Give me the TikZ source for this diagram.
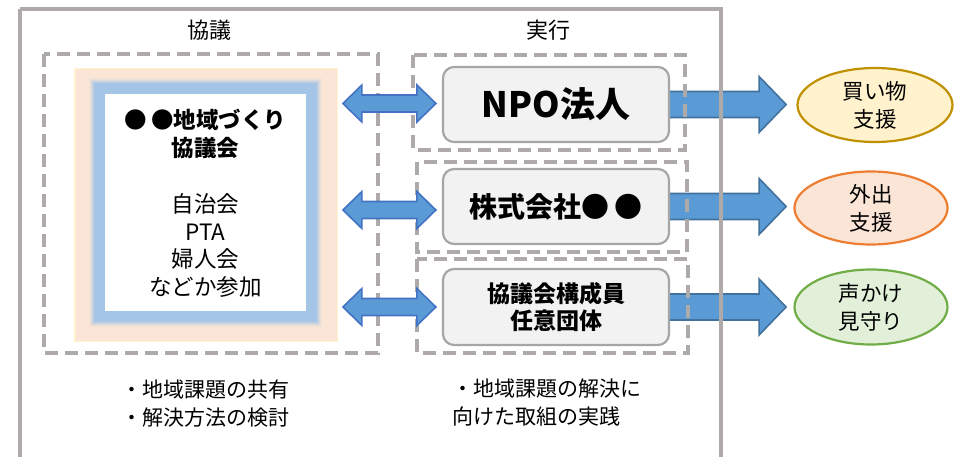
\documentclass[tikz,border=0pt]{standalone}
\usepackage{fontspec}
\setmainfont{Noto Sans CJK JP}
\usetikzlibrary{shapes.geometric,calc}
\definecolor{framegray}{HTML}{AEAAAA}
\definecolor{boxgray}{HTML}{A6A6A6}
\definecolor{boxfill}{HTML}{F2F2F2}
\definecolor{arrblue}{HTML}{5B9BD5}
\definecolor{arredge}{HTML}{4472C4}
\definecolor{arredgedark}{HTML}{41719C}
\definecolor{peach}{HTML}{FBE5D6}
\definecolor{paleyellow}{HTML}{FFF2CC}
\definecolor{glowblue}{HTML}{A4C5E6}
\definecolor{goldedge}{HTML}{BF9000}
\definecolor{orangeedge}{HTML}{ED7D31}
\definecolor{greenedge}{HTML}{70AD47}
\definecolor{greenfill}{HTML}{E2F0D9}
\pgfdeclarelayer{bg}
\pgfsetlayers{bg,main}
\begin{document}
\begin{tikzpicture}[x=1pt,y=-1pt,
  txt/.style={font=\fontsize{21}{28}\selectfont, inner sep=0, align=center},
  dashbox/.style={draw=framegray, line width=4pt, dash pattern=on 13pt off 7pt},
  actbox/.style={draw=boxgray, fill=boxfill, line width=2.2pt, rounded corners=11pt,
    minimum width=226pt, minimum height=75pt, inner sep=0, align=center, font=\bfseries},
  dblarr/.style={fill=arrblue, draw=arredge, line width=1.6pt, line join=miter},
  fatarr/.style={fill=arrblue, draw=arredgedark, line width=1.6pt, line join=miter},
  goal/.style={ellipse, line width=2.2pt, minimum width=155pt, minimum height=74pt,
    inner sep=0, align=center, font=\fontsize{21.5}{28}\selectfont}
]
\useasboundingbox (0,0) rectangle (957,457);

% council area
\begin{pgfonlayer}{bg}
  \fill[peach] (74,68) rectangle (338,342);
  \draw[paleyellow, line width=1.5pt] (74.75,68.75) rectangle (337.25,341.25);
  \foreach \w/\o in {32/0.08,30/0.12,28/0.18,26/0.28,24/0.45,22/0.7,20/1}{
    \draw[glowblue, line width=\w pt, opacity=\o] (105,94) rectangle (306,311);
  }
\end{pgfonlayer}
\node[fill=white, minimum width=201pt, minimum height=217pt, inner sep=0,
  anchor=north west] (council) at (105,94) {};
\node[txt, font=\fontsize{22.5}{27.8}\selectfont] (counciltext) at (205.5,203.5)
  {\textbf{●\,●地域づくり}\\\textbf{協議会}\\[27.8pt]自治会\\PTA\\婦人会\\などか参加};

% headings
\node[txt, font=\fontsize{22}{28}\selectfont] (hkyogi) at (209,30) {協議};
\node[txt, font=\fontsize{22}{28}\selectfont] (hjikko) at (548,30) {実行};

% action boxes
\node[actbox, font=\bfseries\fontsize{35}{38}\selectfont] (npo) at (556,104.5) {NPO法人};
\node[actbox, font=\bfseries\fontsize{28}{30}\selectfont] (kabu) at (556,206.5) {株式会社●\,●};
\node[actbox, minimum height=76pt, font=\bfseries\fontsize{23}{27}\selectfont] (nin) at (556,307)
  {協議会構成員\\任意団体};

% goals
\node[goal, draw=goldedge, fill=paleyellow] (g1) at (875,105) {買い物\\支援};
\node[goal, draw=orangeedge, fill=peach, minimum width=153pt, minimum height=73pt] (g2) at (871,208) {外出\\支援};
\node[goal, draw=greenedge, fill=greenfill, minimum width=153pt, minimum height=75pt] (g3) at (871,307) {声かけ\\見守り};

% right fat arrows (under boxes and frames)
\begin{pgfonlayer}{bg}
  \foreach \b in {npo,kabu,nin}{
    \draw[fatarr] ($(\b.east)+(-6,0)$) ++(0,-13) -- ++(95,0) -- ++(0,-15) -- ++(27,28)
      -- ++(-27,28) -- ++(0,-15) -- ++(-95,0) -- cycle;
  }
\end{pgfonlayer}

% dashed group boxes
\draw[dashbox] (44,54) rectangle (378,353);
\draw[dashbox] (413,55) rectangle (685,150);
\draw[dashbox] (417,162) rectangle (687,252);
\draw[dashbox] (417,259) rectangle (688,353);

% outer frame
\draw[framegray, line width=4pt] (20,9) -- (721,9) -- (721,457) (20,9) -- (20,457);

% double arrows
\foreach \b/\dy in {npo/-1,kabu/3.5,nin/0}{
  \draw[dblarr] ($(\b.west)+(-99,\dy)$) -- ++(19,-18.5) -- ++(0,10) -- ++(55,0) -- ++(0,-10)
    -- ++(19,18.5) -- ++(-19,18.5) -- ++(0,-10) -- ++(-55,0) -- ++(0,10) -- cycle;
}

% bottom notes
\node[txt] (note1) at (205,404) {・地域課題の共有\\・解決方法の検討};
\node[txt, align=left, anchor=west] (note2) at (452,403) {・地域課題の解決に\\向けた取組の実践};
\end{tikzpicture}
\end{document}
